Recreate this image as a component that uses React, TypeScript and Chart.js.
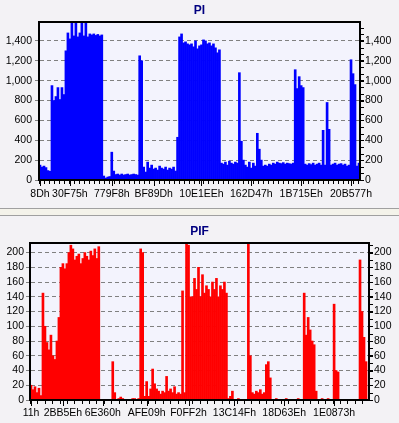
import React, { useEffect, useRef } from 'react';
import { Chart, registerables } from 'chart.js';

Chart.register(...registerables);

const FONT = "'Liberation Sans', Arial, sans-serif";
const PAGE_BG = '#f3f2f5';
const PLOT_BG = '#f3f3fd';

// ---- PI (top chart) ----
const piValues = [
  150, 130, 140, 125, 95, 88,
  950, 800, 840, 930, 810, 930, 860,
  1300, 1480, 1420, 1620, 1450, 1620, 1440, 1480, 1620, 1450, 1620, 1440, 1470, 1460, 1470, 1455, 1465, 1450, 1460,
  40, 20, 30, 35,
  280, 90,
  55, 60, 50, 60, 50, 55, 60, 50, 55, 60, 55, 50,
  1250, 1200,
  130, 80, 180, 120, 150, 110, 120, 100, 140, 120, 110, 130, 100, 120, 110, 130, 90,
  430,
  1440, 1470, 1380, 1390, 1370, 1360, 1370, 1340, 1400, 1320, 1350, 1360, 1410, 1400, 1370, 1380, 1350, 1370, 1330, 1280, 1310,
  170, 160, 180, 150, 190, 170, 160, 180, 170,
  1080, 390, 200, 150, 130, 180, 120, 170, 140,
  470, 310, 200, 140,
  150, 140, 160, 150, 170, 160, 180, 170, 165, 175, 160, 170, 165, 160, 170,
  1110, 920, 1040, 950, 930,
  160, 150, 165, 155, 170, 150, 160, 170, 150,
  500, 150, 780, 510,
  150, 160, 170, 150, 160, 165, 150, 160, 140, 150,
  1210, 1070, 960, 140, 170,
];
const piTickIndex = [0, 15, 36, 57, 81, 106, 131, 156];
const piTickText = ['8Dh', '30F75h', '779F8h', 'BF89Dh', '10E1EEh', '162D47h', '1B715Eh', '20B577h'];

// ---- PIF (bottom chart) ----
const pifValues = [
  20, 14, 18, 10, 16, 6,
  145, 100, 78, 68, 88, 60, 55, 80, 112,
  180, 185, 178, 185, 200, 210, 205, 190, 195, 198, 185, 192, 200, 195, 190, 202, 196, 205, 192, 208,
  0, 0, 0, 0, 0, 0, 52, 10, 0, 2, 4, 2, 0, 0, 0, 0, 2, 2, 0, 2,
  205, 200,
  5, 25, 5, 15, 42, 22, 15, 12, 8, 12, 10, 32, 12, 15, 10, 18, 8, 10, 8,
  148, 10,
  213, 210, 140, 140, 165, 150, 180, 140, 170, 145, 155, 150, 140, 160, 150, 165, 140, 155, 150, 160, 145,
  2, 5, 12, 0, 0, 2, 0, 0, 0, 0,
  213, 60, 10, 8, 12, 10, 14, 8, 10,
  48, 52, 30,
  0, 0, 2, 0, 0, 0, 0, 2, 0, 0, 0, 0, 0, 2, 0, 0,
  145, 88, 112, 95, 80, 75, 12,
  0, 0, 2, 0, 0, 2, 0, 0,
  130, 40, 38,
  0, 0, 0, 0, 0, 0, 0, 0, 0, 0,
  190, 120, 85, 52, 0,
];
const pifTickIndex = [0, 16, 36, 58, 79, 102, 127, 152];
const pifTickText = ['11h', '2BB5Eh', '6E360h', 'AFE09h', 'F0FF2h', '13C14Fh', '18D63Eh', '1E0873h'];

type PanelProps = {
  title: string;
  values: number[];
  tickIndex: number[];
  tickText: string[];
  color: string;
  yMax: number;
  yStep: number;
  yMinor: number;
  xMinor: number;
  axisW: number;
  xAxisH: number;
  titleTop: number;
  titleBottom: number;
  leftPad: number;
  rightPad: number;
  xPad: number;
  top: number;
  height: number;
};

const fmt = (v: any) => Number(v).toLocaleString('en-US');

function Panel(p: PanelProps) {
  const ref = useRef<HTMLCanvasElement>(null);
  useEffect(() => {
    if (!ref.current) return;
    const labels = p.values.map((_, i) => {
      const k = p.tickIndex.indexOf(i);
      return k >= 0 ? p.tickText[k] : '';
    });
    const stepTicks = (s: any) => {
      const t: any[] = [];
      for (let v = 0; v <= p.yMax + 1e-6; v += p.yStep) t.push({ value: v });
      s.ticks = t;
    };
    const decor = {
      id: 'decor',
      beforeDraw(chart: any) {
        const { ctx, chartArea } = chart;
        ctx.save();
        ctx.fillStyle = PLOT_BG;
        ctx.fillRect(chartArea.left, chartArea.top, chartArea.right - chartArea.left, chartArea.bottom - chartArea.top);
        ctx.restore();
      },
      afterDatasetsDraw(chart: any) {
        const { ctx, chartArea } = chart;
        const { left, top, right, bottom } = chartArea;
        ctx.save();
        ctx.strokeStyle = '#000';
        ctx.lineWidth = 2;
        ctx.strokeRect(left, top, right - left, bottom - top);
        ctx.lineWidth = 1;
        ctx.beginPath();
        const xs = chart.scales.x;
        const n = p.values.length;
        for (let v = -0.5; v <= n - 0.5 + 1e-6; v += p.xMinor) {
          const px = Math.round(xs.getPixelForValue(v)) + 0.5;
          ctx.moveTo(px, bottom + 1);
          ctx.lineTo(px, bottom + 4);
        }
        for (const idx of p.tickIndex) {
          const px = Math.round(xs.getPixelForValue(idx)) + 0.5;
          ctx.moveTo(px, bottom + 1);
          ctx.lineTo(px, bottom + 6);
        }
        const ys = chart.scales.y2;
        for (let v = 0; v <= p.yMax + 1e-6; v += p.yMinor) {
          const py = Math.round(ys.getPixelForValue(v)) + 0.5;
          ctx.moveTo(right + 1, py);
          ctx.lineTo(right + 4, py);
        }
        ctx.stroke();
        ctx.restore();
      },
    };
    const tickFont = { family: FONT, size: 10.5 };
    const chart = new Chart(ref.current, {
      type: 'bar',
      data: {
        labels,
        datasets: [
          {
            data: p.values,
            backgroundColor: p.color,
            borderWidth: 0,
            barPercentage: 1,
            categoryPercentage: 1,
            yAxisID: 'y',
          },
        ],
      },
      options: {
        responsive: false,
        animation: false,
        devicePixelRatio: 1,
        layout: { padding: 0 },
        plugins: {
          legend: { display: false },
          tooltip: { enabled: false },
          title: {
            display: true,
            text: p.title,
            color: '#000080',
            font: { family: FONT, size: 12, weight: 'bold' },
            padding: { top: p.titleTop, bottom: p.titleBottom },
          },
        },
        scales: {
          x: {
            type: 'category',
            offset: true,
            grid: { display: true, drawOnChartArea: false, drawTicks: true, tickLength: 4, color: 'transparent', tickColor: 'transparent' },
            border: { display: false },
            ticks: { autoSkip: false, maxRotation: 0, minRotation: 0, padding: p.xPad, color: '#000', font: tickFont },
            afterFit: (s: any) => { s.height = p.xAxisH; },
          },
          y: {
            position: 'left',
            min: 0,
            max: p.yMax,
            grid: { color: '#808080', lineWidth: 1, tickLength: 4, tickColor: '#808080', drawTicks: true },
            border: { display: true, color: '#000', width: 1, dash: [4, 3] },
            ticks: { autoSkip: false, padding: p.leftPad, color: '#000', font: tickFont, callback: fmt },
            afterBuildTicks: stepTicks,
            afterFit: (s: any) => { s.width = p.axisW; },
          },
          y2: {
            position: 'right',
            min: 0,
            max: p.yMax,
            grid: { drawOnChartArea: false, tickLength: 4, tickColor: '#000', drawTicks: true },
            border: { display: false },
            ticks: { autoSkip: false, padding: p.rightPad, color: '#000', font: tickFont, callback: fmt },
            afterBuildTicks: stepTicks,
            afterFit: (s: any) => { s.width = p.axisW; },
          },
        },
      } as any,
      plugins: [decor],
    });
    return () => chart.destroy();
  }, []);
  return (
    <canvas
      ref={ref}
      width={399}
      height={p.height}
      style={{ position: 'absolute', left: 0, top: p.top, width: 399, height: p.height, display: 'block' }}
    />
  );
}

export default function App() {
  return (
    <div style={{ position: 'absolute', left: 0, top: 0, width: 399, height: 423, background: PAGE_BG, overflow: 'hidden' }}>
      <Panel
        title="PI"
        values={piValues}
        tickIndex={piTickIndex}
        tickText={piTickText}
        color="#0000ff"
        yMax={1590}
        yStep={200}
        yMinor={200 / 3}
        xMinor={2.5}
        axisW={39}
        xAxisH={26}
        titleTop={3}
        titleBottom={4.6}
        leftPad={3}
        rightPad={1}
        xPad={4}
        top={0}
        height={206}
      />
      <div style={{ position: 'absolute', left: 0, top: 208, width: 399, height: 6, borderTop: '1px solid #a0a0a0', borderBottom: '1px solid #a0a0a0', background: '#f4f3ea' }} />
      <Panel
        title="PIF"
        values={pifValues}
        tickIndex={pifTickIndex}
        tickText={pifTickText}
        color="#ff0000"
        yMax={213}
        yStep={20}
        yMinor={10}
        xMinor={3.7}
        axisW={30}
        xAxisH={23}
        titleTop={8}
        titleBottom={4.6}
        leftPad={2}
        rightPad={1}
        xPad={3}
        top={216}
        height={207}
      />
    </div>
  );
}
